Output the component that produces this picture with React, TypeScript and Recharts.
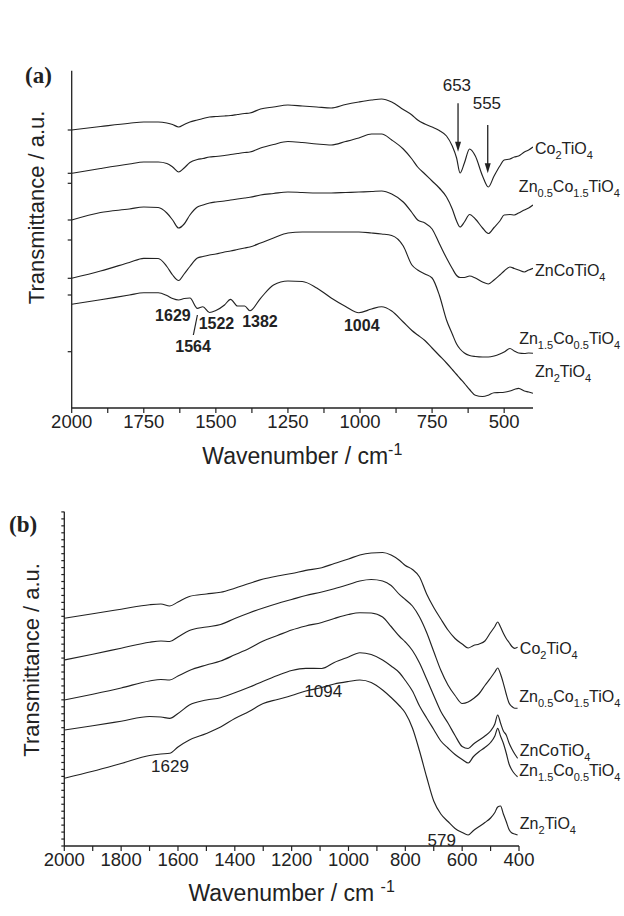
import React from 'react';
import { LineChart, Line, XAxis, YAxis, ReferenceDot, ReferenceLine } from 'recharts';

const FONT = '"Liberation Sans", Arial, Helvetica, sans-serif';
const INK = '#222';

// ---------- data: panel (a) ----------
const A_WAVENUMBER = [2000, 1900, 1800, 1750, 1700, 1670, 1650, 1629, 1610, 1590, 1564, 1545, 1522, 1500, 1470, 1449, 1425, 1400, 1382, 1345, 1300, 1250, 1200, 1150, 1100, 1050, 1004, 960, 925, 890, 850, 820, 800, 775, 750, 725, 700, 680, 665, 653, 638, 620, 600, 575, 555, 535, 515, 500, 480, 465, 450, 430, 415, 400];
const A_CO2TIO4 = [278, 281.5, 284.8, 286, 286, 285, 283.5, 281, 283.5, 286, 288, 289.5, 291, 291.5, 292, 292.5, 293.5, 294.5, 295, 299, 301, 303, 302, 301, 300, 303.5, 306, 308, 309, 306, 298.5, 293, 288, 284, 281, 277.5, 272, 262, 250, 235, 245, 259, 252, 232, 221, 232, 242, 248, 249, 251, 252, 256, 258, 261];
const A_ZN05CO15 = [234.7, 239.5, 244, 246, 246, 244.5, 241, 236, 240, 245.5, 248.5, 249.5, 251, 251.5, 252.5, 253.5, 254.5, 255.5, 256, 260, 263.5, 266.5, 265.5, 264, 263, 266.5, 270, 274, 274, 268, 259, 249, 241, 234, 227, 220, 211, 199, 187, 181, 186, 193.5, 189, 180, 174.5, 180.5, 187, 193, 193.5, 193, 195, 198, 200, 203];
const A_ZNCO = [188, 195.5, 199, 201, 200.5, 195, 188, 180, 184, 193, 201, 203, 205, 206, 207, 208, 209, 210, 210.7, 213, 214.5, 216, 215.5, 215, 215, 215.5, 216, 216.5, 217, 214, 206, 195.5, 188, 185, 179, 164.5, 150, 139.5, 132.5, 130.5, 130.5, 132, 130, 126, 124, 128, 133, 137, 141, 139.5, 138, 136, 138, 139.7];
const A_ZN15CO05 = [129.7, 137, 145.5, 149.7, 149.5, 141.5, 133, 127.5, 134, 141.5, 150, 151.5, 153, 154, 156, 157, 158.5, 160, 161, 165, 170, 175, 176, 176, 176, 176, 176, 175, 174, 172.5, 162, 143, 138, 134, 130, 113, 88, 74, 64, 59, 55, 52.5, 51.5, 51, 51, 52, 54, 56, 59.5, 57, 55, 54.5, 55, 54.7];
const A_ZN2TIO4 = [103.7, 108.2, 113, 115.3, 115.3, 112.5, 109.5, 108, 109.5, 110, 99.7, 101.3, 95.5, 97.5, 103, 108.7, 102, 102, 97.3, 109.7, 123, 127, 126.5, 120, 110, 101.5, 95.3, 99, 101.3, 97, 86, 77.5, 73, 67.5, 60, 52.5, 45, 38.5, 33.5, 29.5, 24.7, 18.5, 12.8, 11.5, 12.8, 15.3, 15.5, 15.8, 17, 18.5, 19.7, 17, 16, 14.7];

// ---------- data: panel (b) ----------
const B_WAVENUMBER = [2000, 1900, 1800, 1700, 1660, 1629, 1600, 1560, 1500, 1450, 1400, 1350, 1300, 1250, 1200, 1150, 1094, 1050, 1000, 960, 920, 880, 850, 820, 800, 775, 750, 725, 700, 675, 650, 625, 600, 579, 560, 540, 520, 500, 485, 475, 465, 455, 445, 435, 425, 415, 405];
const B_CO2TIO4 = [227.7, 232.3, 236.8, 241.3, 242, 240, 244, 249.5, 252, 253.7, 257.8, 262.5, 267, 270, 272.5, 275.6, 278.3, 282.5, 287, 291, 293, 293.5, 291, 285.5, 280.5, 276.5, 269, 252, 238.5, 227, 216, 207.5, 202, 198, 200.5, 202, 205, 213.5, 219.5, 224, 219, 212.7, 207.5, 203.5, 199.5, 197.7, 198.7];
const B_ZN05CO15 = [186, 191.8, 197.8, 203.8, 205, 204.5, 209, 215.5, 219, 221.5, 227.5, 233, 238, 242.5, 246.5, 250.5, 254, 257.3, 261.5, 265, 266.5, 265, 260.5, 251.3, 246.5, 240, 229, 213.5, 194.5, 175.7, 161, 150.5, 142.5, 144, 147.5, 152.5, 160.5, 168, 174, 178, 172, 162.7, 152, 143, 139.5, 137.8, 137.7];
const B_ZNCO = [146, 151.8, 158, 165, 166.5, 166, 170, 175.5, 181, 185, 191.2, 197.5, 205, 210.5, 216, 220, 223.5, 227.5, 231.5, 233.3, 233, 229, 219.5, 209.5, 204, 195.5, 183, 167, 150.5, 134.5, 123, 110.5, 99.5, 97.5, 102, 106, 110, 115, 122, 131, 123, 115, 111, 103, 97, 92, 87.7];
const B_ZN15CO05 = [116, 120.2, 124.8, 129.5, 129, 127.7, 132.5, 141, 146, 148.3, 153.2, 158.7, 164.8, 170.5, 175.5, 177.7, 177.5, 183.5, 189, 193.3, 191.5, 186, 180, 173, 165.5, 155, 140, 128, 116.5, 105, 98, 91.5, 86.5, 83, 89.5, 94.5, 98.5, 103.5, 110, 117.7, 110, 102.7, 93, 82, 76, 72, 69.3];
const B_ZN2TIO4 = [67.7, 74.7, 82.5, 90.5, 92, 92.7, 99, 106, 112.5, 119, 127.5, 134.5, 142.5, 146.5, 150.5, 155, 158.5, 162, 164.5, 166, 163.5, 156, 148.5, 140, 133, 118, 95, 69, 45, 32, 24.5, 17.5, 13.5, 11, 15.5, 19.5, 23.5, 28, 33.5, 39, 40, 32, 24.5, 16.5, 13, 12, 11];

const SERIES_NAMES = ['Co2TiO4', 'Zn0.5Co1.5TiO4', 'ZnCoTiO4', 'Zn1.5Co0.5TiO4', 'Zn2TiO4'];

// ticks
const A_XTICKS = [2000, 1875, 1750, 1625, 1500, 1375, 1250, 1125, 1000, 875, 750, 625, 500];
const B_XTICKS = [2000, 1900, 1800, 1700, 1600, 1500, 1400, 1300, 1200, 1100, 1000, 900, 800, 700, 600, 500, 400];
const A_YTICKS = [56.3, 113, 129.7, 168, 188, 224.7, 234.7, 278];
const B_YTICKS = Array.from({ length: 49 }, (_, k) => +(k * 6.96).toFixed(2));

// annotations
const A_PEAK_TEXT = ['1629', '1522', '1382', '1564', '1004'];
const A_ARROW_TEXT = ['653', '555'];
const B_PEAK_TEXT = ['1094', '1629', '579'];

// ---------- layout (positions in data units) ----------
const A_PEAK_POS = [[1649, 93], [1498, 85], [1347, 86.3], [1579, 61.3], [994, 83]];
const A_LEADER = [[1564, 93], [1578, 73]];
const A_ARROW_TEXT_POS = [[664, 323], [560, 304.7]];
const A_ARROWS = [[660, 304.7, 256.3], [557, 283, 234.7]];
const B_PEAK_POS = [[1089, 154.3], [1628, 79.3], [672, 6]];
const A_NAME_POS = [[393, 260], [449, 222], [393, 138], [448, 70], [393, 36.3]];
const B_NAME_POS = [[397, 197.7], [399, 149.3], [397, 96], [399, 76], [397, 22.7]];

const A_SERIES = [A_CO2TIO4, A_ZN05CO15, A_ZNCO, A_ZN15CO05, A_ZN2TIO4];
const B_SERIES = [B_CO2TIO4, B_ZN05CO15, B_ZNCO, B_ZN15CO05, B_ZN2TIO4];

const rowsA = A_WAVENUMBER.map((w, i) => {
  const r: any = { w };
  A_SERIES.forEach((s, k) => { r['s' + k] = s[i]; });
  return r;
});
const rowsB = B_WAVENUMBER.map((w, i) => {
  const r: any = { w };
  B_SERIES.forEach((s, k) => { r['s' + k] = s[i]; });
  return r;
});

function formulaParts(s: string) {
  return s.split(/(\d+(?:\.\d+)?)/).filter(Boolean).map((p) => ({ text: p, sub: /^\d/.test(p) }));
}

const Formula = (props: any) => {
  const { cx, cy, name } = props;
  if (cx == null || cy == null) return null;
  const parts = formulaParts(name);
  let inSub = false;
  return (
    <text x={cx} y={cy + 5.5} fill={INK} fontFamily={FONT} fontSize={16}>
      {parts.map((p, i) => {
        let dy = 0;
        if (p.sub && !inSub) dy = 5;
        if (!p.sub && inSub) dy = -5;
        inSub = p.sub;
        return (
          <tspan key={i} dy={dy} fontSize={p.sub ? 11 : 16}>{p.text}</tspan>
        );
      })}
    </text>
  );
};

const TextMark = (props: any) => {
  const { cx, cy, label, bold } = props;
  if (cx == null || cy == null) return null;
  return (
    <text x={cx} y={cy + 5.5} textAnchor="middle" fill={INK} fontFamily={FONT}
      fontSize={bold ? 16 : 17} fontWeight={bold ? 'bold' : 'normal'}>{label}</text>
  );
};

const ArrowHead = (props: any) => {
  const { cx, cy } = props;
  if (cx == null || cy == null) return null;
  return <polygon points={`${cx - 3},${cy - 10} ${cx + 3},${cy - 10} ${cx},${cy}`} fill={INK} />;
};

const yTitle = (dx: number, dy: number) => (props: any) => {
  const vb = props.viewBox || { x: 0, y: 0, width: 0, height: 0 };
  const tx = vb.x + vb.width - dx;
  const ty = vb.y + vb.height / 2 + dy;
  return (
    <text x={tx} y={ty} transform={`rotate(-90 ${tx} ${ty})`} textAnchor="middle"
      dominantBaseline="central" fill={INK} fontFamily={FONT} fontSize={22}>
      Transmittance / a.u.
    </text>
  );
};

const xTitle = (gap: number, spaced: boolean) => (props: any) => {
  const vb = props.viewBox || { x: 0, y: 0, width: 0, height: 0 };
  const cx = vb.x + vb.width / 2;
  const y = vb.y + gap;
  return (
    <text x={cx} y={y} textAnchor="middle" fill={INK} fontFamily={FONT} fontSize={23}>
      <tspan>{'Wavenumber / cm' + (spaced ? ' ' : '')}</tspan>
      <tspan dy={-9} fontSize={16}>-1</tspan>
    </text>
  );
};

const tickStyle = { fill: INK, fontSize: 18.5, fontFamily: FONT };
const lineProps = { type: 'monotone' as const, stroke: INK, strokeWidth: 1.15, dot: false, isAnimationActive: false };

export default function App() {
  return (
    <div style={{ position: 'absolute', left: 0, top: 0, width: 624, height: 916, background: '#fff', overflow: 'hidden' }}>
      <div style={{ position: 'absolute', left: 25, top: 63, fontFamily: '"Liberation Serif", "Times New Roman", serif', fontWeight: 'bold', fontSize: 23, color: INK }}>(a)</div>
      <div style={{ position: 'absolute', left: 9, top: 512, fontFamily: '"Liberation Serif", "Times New Roman", serif', fontWeight: 'bold', fontSize: 23, color: INK }}>(b)</div>

      <div style={{ position: 'absolute', left: 0, top: 0 }}>
        <LineChart width={624} height={470} data={rowsA} margin={{ top: 70.7, right: 91, bottom: 32, left: 41.7 }}>
          <XAxis dataKey="w" type="number" domain={[400, 2000]} reversed allowDataOverflow ticks={A_XTICKS} interval={0}
            tickFormatter={(v: number) => (v % 250 === 0 ? String(v) : '')} height={30} tickSize={5}
            axisLine={{ stroke: INK, strokeWidth: 1.3 }} tickLine={{ stroke: INK, strokeWidth: 1.2 }} tick={tickStyle}
            label={{ content: xTitle(56, false) }} />
          <YAxis type="number" domain={[0, 337.3]} ticks={A_YTICKS} interval={0} width={30} tickSize={4}
            tickFormatter={() => ''} axisLine={{ stroke: INK, strokeWidth: 1.3 }} tickLine={{ stroke: INK, strokeWidth: 1.2 }}
            tick={tickStyle} label={{ content: yTitle(35, -32) }} />
          {SERIES_NAMES.map((n, k) => (
            <Line key={n} dataKey={'s' + k} name={n} {...lineProps} />
          ))}
          {A_ARROWS.map(([w, y0, y1], i) => (
            <ReferenceLine key={'as' + i} segment={[{ x: w, y: y0 }, { x: w, y: y1 + 8 }]} stroke={INK} strokeWidth={1.3} ifOverflow="visible" />
          ))}
          {A_ARROWS.map(([w, , y1], i) => (
            <ReferenceDot key={'ah' + i} x={w} y={y1} r={1} ifOverflow="visible" shape={(p: any) => <ArrowHead {...p} />} />
          ))}
          <ReferenceLine segment={[{ x: A_LEADER[0][0], y: A_LEADER[0][1] }, { x: A_LEADER[1][0], y: A_LEADER[1][1] }]} stroke={INK} strokeWidth={1.2} ifOverflow="visible" />
          {A_PEAK_TEXT.map((t, i) => (
            <ReferenceDot key={'ap' + i} x={A_PEAK_POS[i][0]} y={A_PEAK_POS[i][1]} r={1} ifOverflow="visible"
              shape={(p: any) => <TextMark {...p} label={t} bold />} />
          ))}
          {A_ARROW_TEXT.map((t, i) => (
            <ReferenceDot key={'at' + i} x={A_ARROW_TEXT_POS[i][0]} y={A_ARROW_TEXT_POS[i][1]} r={1} ifOverflow="visible"
              shape={(p: any) => <TextMark {...p} label={t} />} />
          ))}
          {SERIES_NAMES.map((n, i) => (
            <ReferenceDot key={'an' + i} x={A_NAME_POS[i][0]} y={A_NAME_POS[i][1]} r={1} ifOverflow="visible"
              shape={(p: any) => <Formula {...p} name={n} />} />
          ))}
        </LineChart>
      </div>

      <div style={{ position: 'absolute', left: 0, top: 470 }}>
        <LineChart width={624} height={446} data={rowsB} margin={{ top: 41.7, right: 105, bottom: 40, left: 34.3 }}>
          <XAxis dataKey="w" type="number" domain={[400, 2000]} reversed allowDataOverflow ticks={B_XTICKS} interval={0}
            tickFormatter={(v: number) => (v % 200 === 0 ? String(v) : '')} height={30} tickSize={5}
            axisLine={{ stroke: INK, strokeWidth: 1.3 }} tickLine={{ stroke: INK, strokeWidth: 1.2 }} tick={tickStyle}
            label={{ content: xTitle(55, true) }} />
          <YAxis type="number" domain={[0, 334.3]} ticks={B_YTICKS} interval={0} width={30} tickSize={3}
            tickFormatter={() => ''} axisLine={{ stroke: INK, strokeWidth: 1.3 }} tickLine={{ stroke: INK, strokeWidth: 1.2 }}
            tick={tickStyle} label={{ content: yTitle(33, -19) }} />
          {SERIES_NAMES.map((n, k) => (
            <Line key={n} dataKey={'s' + k} name={n} {...lineProps} />
          ))}
          {B_PEAK_TEXT.map((t, i) => (
            <ReferenceDot key={'bp' + i} x={B_PEAK_POS[i][0]} y={B_PEAK_POS[i][1]} r={1} ifOverflow="visible"
              shape={(p: any) => <TextMark {...p} label={t} />} />
          ))}
          {SERIES_NAMES.map((n, i) => (
            <ReferenceDot key={'bn' + i} x={B_NAME_POS[i][0]} y={B_NAME_POS[i][1]} r={1} ifOverflow="visible"
              shape={(p: any) => <Formula {...p} name={n} />} />
          ))}
        </LineChart>
      </div>
    </div>
  );
}
